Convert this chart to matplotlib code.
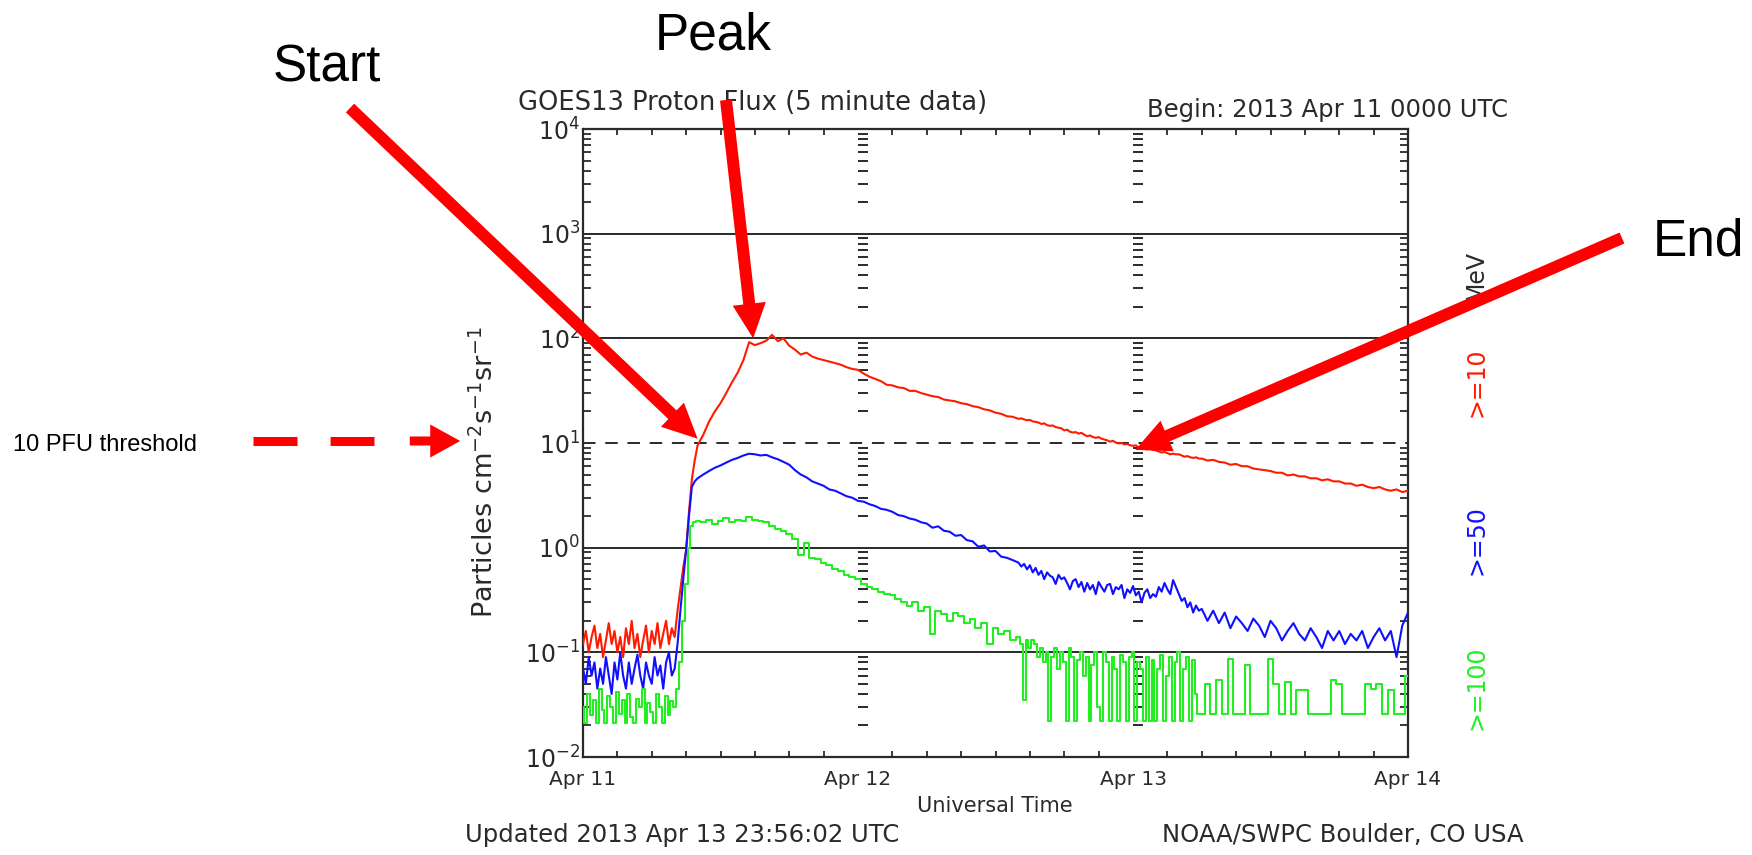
import numpy as np
import matplotlib
matplotlib.use('Agg')
import matplotlib.pyplot as plt
from matplotlib.ticker import LogLocator, MultipleLocator, NullFormatter
from matplotlib.patches import FancyArrowPatch, ConnectionPatch
from matplotlib.lines import Line2D
from matplotlib.transforms import IdentityTransform, offset_copy

plt.rcParams['lines.scale_dashes'] = False

# sample times in hours after 2013 Apr 11 00:00 UTC
hours = np.concatenate([np.arange(0, 10, 0.25), np.arange(10, 38, 0.5),
                        np.arange(38, 54, 0.25), np.arange(54, 72.01, 0.5)])

# >=10 MeV
flux_10 = [
    # 0 - 10 h
    .12, .16, .10, .14, .18, .11, .15, .09,
    .13, .19, .12, .16, .10, .14, .09, .17,
    .12, .20, .11, .15, .09, .13, .18, .10,
    .16, .12, .19, .11, .15, .20, .12, .17,
    .14, .25, .40, .65, .95, 2.2, 4.5, 6.8,
    # 10 - 38 h
    9.5, 12, 16, 20, 24, 30, 38, 47,
    62, 92, 86, 90, 95, 108, 94, 100,
    85, 78, 70, 73, 67, 64, 62, 60,
    58, 56, 53, 51, 50, 46, 43, 41,
    39, 36, 35.5, 34, 33.5, 31.5, 31.5, 30,
    29, 28, 27.5, 26, 25.5, 25, 24, 23.5,
    22.5, 22, 21, 20.5, 19.5, 19, 18, 17.8,
    # 38 - 54 h
    17, 17.2, 16.8, 16.5, 16.6, 16.1, 15.9, 15.7,
    15.2, 15.4, 14.8, 14.6, 14.7, 14.2, 14.0, 13.8,
    13.2, 13.4, 12.8, 12.6, 12.7, 12.3, 12.5, 12.0,
    11.6, 11.8, 11.4, 11.2, 11.4, 11.0, 10.8, 10.6,
    10.3, 10.5, 10.1, 9.9, 10.0, 9.7, 9.8, 9.5,
    9.4, 9.5, 9.0, 9.2, 8.9, 8.7, 8.8, 8.6,
    8.5, 8.3, 8.1, 8.2, 8.0, 7.8, 7.9, 7.8,
    7.8, 7.6, 7.4, 7.5, 7.3, 7.2, 7.3, 7.1,
    # 54 - 72 h
    7.1, 6.8, 6.9, 6.6, 6.5, 6.2, 6.3, 6.0,
    6.0, 5.7, 5.6, 5.5, 5.4, 5.2, 5.2, 4.9,
    5.0, 4.8, 4.8, 4.6, 4.6, 4.4, 4.5, 4.3,
    4.3, 4.1, 4.1, 3.9, 4.0, 3.8, 3.7, 3.8,
    3.6, 3.5, 3.6, 3.4, 3.5,
]

# >=50 MeV
flux_50 = [
    .07, .05, .09, .06, .08, .045, .07, .05,
    .09, .06, .04, .08, .055, .10, .06, .045,
    .08, .05, .07, .095, .06, .045, .08, .06,
    .05, .09, .06, .075, .045, .08, .10, .06,
    .07, .12, .25, .50, .95, 2.0, 3.8, 4.3,
    4.6, 5.0, 5.4, 5.8, 6.1, 6.5, 6.9, 7.2,
    7.6, 7.9, 7.8, 7.6, 7.7, 7.3, 7.0, 6.6,
    6.2, 5.5, 5.0, 4.7, 4.3, 4.1, 3.9, 3.6,
    3.5, 3.3, 3.1, 3.0, 2.8, 2.75, 2.6, 2.5,
    2.35, 2.3, 2.2, 2.05, 2.0, 1.9, 1.85, 1.75,
    1.7, 1.55, 1.6, 1.45, 1.42, 1.3, 1.32, 1.18,
    1.15, 1.02, 1.05, .92, .93, .82, .80, .76,
    .72, .66, .70, .62, .68, .58, .64, .55,
    .60, .50, .58, .54, .52, .45, .55, .50,
    .52, .46, .40, .48, .50, .42, .47, .38,
    .46, .40, .44, .36, .47, .42, .38, .44,
    .45, .36, .42, .40, .44, .33, .40, .37,
    .43, .35, .38, .30, .37, .40, .33, .36,
    .34, .42, .38, .46, .40, .36, .49, .42,
    .36, .31, .33, .27, .30, .24, .28, .25,
    .26, .20, .25, .19, .24, .17, .22, .19,
    .16, .21, .18, .14, .20, .17, .13, .16,
    .19, .15, .13, .17, .14, .11, .16, .13,
    .16, .12, .15, .13, .16, .11, .14, .17,
    .13, .16, .09, .18, .24,
]

# >=100 MeV
flux_100 = [
    .030, .021, .040, .025, .035, .021, .045, .028,
    .021, .038, .030, .021, .042, .026, .035, .021,
    .040, .024, .021, .036, .030, .045, .021, .033,
    .027, .021, .040, .030, .021, .038, .025, .034,
    .030, .045, .080, .20, .45, 1.0, 1.6, 1.75,
    1.8, 1.75, 1.85, 1.7, 1.8, 1.9, 1.75, 1.85,
    1.8, 1.95, 1.85, 1.8, 1.75, 1.6, 1.5, 1.45,
    1.35, 1.2, .85, 1.1, .80, .78, .72, .68,
    .62, .60, .55, .52, .50, .45, .42, .40,
    .38, .36, .35, .32, .30, .28, .30, .25,
    .27, .15, .25, .23, .20, .24, .22, .19,
    .21, .17, .19, .12, .17, .15, .16, .13,
    .14, .12, .035, .13, .11, .13, .12, .09,
    .11, .08, .10, .022, .09, .11, .07, .10,
    .08, .022, .11, .09, .022, .085, .10, .06,
    .09, .022, .075, .10, .03, .022, .10, .08,
    .022, .09, .07, .022, .095, .08, .022, .09,
    .10, .022, .08, .07, .022, .09, .022, .085,
    .022, .07, .095, .022, .06, .09, .022, .08,
    .10, .022, .07, .09, .022, .085, .04, .026,
    .026, .05, .026, .055, .026, .087, .026, .026,
    .075, .026, .026, .026, .087, .05, .026, .052,
    .026, .044, .044, .026, .026, .026, .026, .055,
    .05, .026, .026, .026, .026, .05, .045, .05,
    .026, .044, .026, .026, .06,
]

assert len(flux_10) == len(flux_50) == len(flux_100) == len(hours)

day_ticks = [0, 24, 48, 72]
day_labels = ['Apr 11', 'Apr 12', 'Apr 13', 'Apr 14']

W, H = 1752, 855
fig = plt.figure(figsize=(W / 100, H / 100), dpi=100)


def fx(x):
    return x / W


def fy(y):
    # y measured from the top of the picture
    return 1 - y / H


ink = '#2a2a2a'
red, blue, green = '#ff1a00', '#1010ff', '#22ee22'

ax = fig.add_axes([fx(583), fy(757), fx(1408) - fx(583), fy(129) - fy(757)])
ax.plot(hours, flux_10, color=red, lw=1.5, zorder=3)
ax.plot(hours, flux_50, color=blue, lw=1.5, zorder=3)
ax.plot(hours, flux_100, color=green, lw=1.5, drawstyle='steps-mid', zorder=3)

ax.set_yscale('log')
ax.set_ylim(1e-2, 1e4)
ax.set_xlim(0, 72)

for v in [1e3, 1e2, 1, 0.1]:
    ax.axhline(v, color=ink, lw=1.4, zorder=2)
ax.axhline(10, color=ink, lw=1.4, dashes=(9, 7), zorder=2)

ax.yaxis.set_major_locator(LogLocator(base=10, numticks=10))
ax.yaxis.set_minor_locator(LogLocator(base=10, subs=np.arange(2, 10), numticks=20))
ax.yaxis.set_minor_formatter(NullFormatter())
ax.tick_params(axis='y', which='major', length=0, pad=2, labelsize=17, labelcolor=ink)
ax.tick_params(axis='y', which='minor', direction='in', length=6, width=1.3,
               color=ink, left=True, right=True)

ax.set_xticks(day_ticks)
ax.set_xticklabels(day_labels)
ax.xaxis.set_minor_locator(MultipleLocator(3))
ax.tick_params(axis='x', which='major', length=0, pad=9, labelsize=14.5, labelcolor=ink)
ax.tick_params(axis='x', which='minor', direction='in', length=4.5, width=1.3,
               color=ink, top=True, bottom=True)

for s in ax.spines.values():
    s.set_linewidth(1.6)
    s.set_color(ink)

# columns of y minor ticks at the day boundaries
minor_vals = [m * 10.0 ** k for k in range(-2, 4) for m in range(2, 10)]
shift = offset_copy(ax.transData, fig=fig, x=4.5, y=0, units='dots')
for d in day_ticks[1:3]:
    ax.plot([d] * len(minor_vals), minor_vals, ls='none', marker='_', ms=6.5,
            mew=1.4, color=ink, transform=shift, zorder=2)

# plot texts
fig.text(fx(518), fy(110), 'GOES13 Proton Flux (5 minute data)', fontsize=18.5, color=ink)
fig.text(fx(1147), fy(117), 'Begin: 2013 Apr 11 0000 UTC', fontsize=17.5, color=ink)
fig.text(fx(465), fy(842), 'Updated 2013 Apr 13 23:56:02 UTC', fontsize=17.5, color=ink)
fig.text(fx(1162), fy(842), 'NOAA/SWPC Boulder, CO USA', fontsize=17.5, color=ink)
fig.text(fx(995), fy(812), 'Universal Time', fontsize=15, color=ink, ha='center')
fig.text(fx(485), fy(472), r'Particles cm$^{-2}$s$^{-1}$sr$^{-1}$', rotation=90,
         ha='center', va='center', fontsize=19.5, color=ink)

for txt, col, yc in [('>=100', green, 688), ('>=50', blue, 540),
                     ('>=10', red, 382), ('MeV', ink, 275)]:
    fig.text(fx(1476), fy(yc), txt, rotation=90, ha='center', va='center',
             fontsize=17, color=col)

# annotations
big = dict(fontsize=37, family='Liberation Sans', color='black')
fig.text(fx(273), fy(81), 'Start', **big)
fig.text(fx(655), fy(50), 'Peak', **big)
fig.text(fx(1653), fy(255), 'End', **big)
fig.text(fx(13), fy(451), '10 PFU threshold', fontsize=17, family='Liberation Sans')

arrow = 'simple,head_length=25,head_width=24,tail_width=8.6'
for tail, tip in [((350, 108), (10.0, 11)), ((726, 100), (14.85, 100)),
                  ((1622, 238), (48.2, 8.6))]:
    con = ConnectionPatch(xyA=(tail[0], H - tail[1]), coordsA='figure pixels',
                          xyB=tip, coordsB='data', axesB=ax, arrowstyle=arrow,
                          mutation_scale=1, shrinkA=0, shrinkB=0,
                          color='red', lw=0, zorder=6)
    fig.add_artist(con)

fig.add_artist(Line2D([253, 374], [H - 441, H - 441], transform=IdentityTransform(),
                      lw=6.5, color='red', dashes=(31.7, 23.8), dash_capstyle='butt',
                      zorder=6))
fig.add_artist(FancyArrowPatch((407, H - 441), (463, H - 441), transform=IdentityTransform(),
                               arrowstyle='simple,head_length=21.6,head_width=23.8,tail_width=6.5',
                               mutation_scale=1, color='red', lw=0, zorder=6))

fig.savefig('out.png', dpi=100)
